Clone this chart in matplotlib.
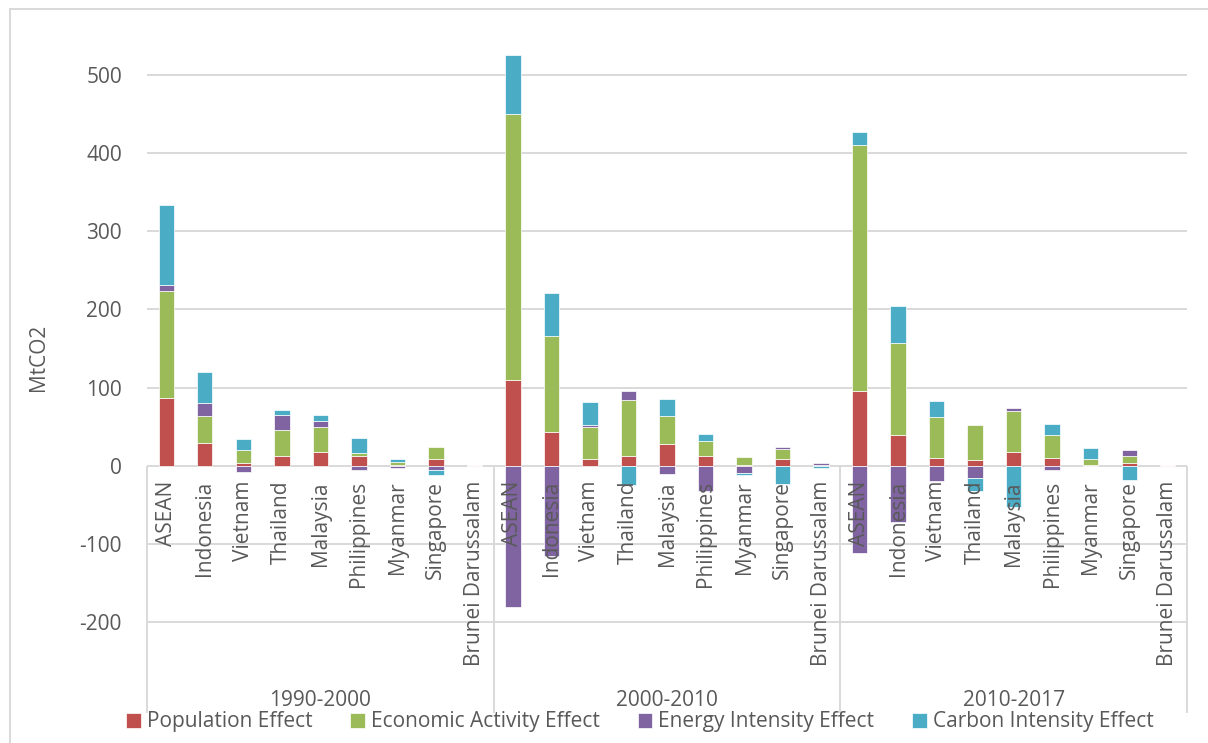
import matplotlib
matplotlib.use("Agg")
import matplotlib.pyplot as plt
from matplotlib.lines import Line2D
import numpy as np

plt.rcParams['font.family'] = ['Open Sans', 'DejaVu Sans']
plt.rcParams['axes.unicode_minus'] = False

# --- data (MtCO2) ---------------------------------------------------------
periods = ["1990-2000", "2000-2010", "2010-2017"]
countries = ["ASEAN", "Indonesia", "Vietnam", "Thailand", "Malaysia",
             "Philippines", "Myanmar", "Singapore", "Brunei Darussalam"]

population_effect = [
    86, 29, 4, 13, 18, 12, 1.5, 9, 0.3,
    110, 43, 8, 12, 28, 12, 0.5, 8, 0.4,
    96, 39, 10, 7, 18, 10, 1, 4, 0.3,
]
economic_activity_effect = [
    137, 34, 16, 33, 32, 4, 3, 15, 0.3,
    340, 123, 42, 72, 36, 20, 10, 14, 0.3,
    314, 118, 52, 45, 52, 29, 7.5, 8.5, 0.3,
]
energy_intensity_effect = [
    8.5, 17, -8, 19, 7, -6, -3, -5, 0.8,
    -181, -115, 2, 12, -11, -33, -9, 2, 3,
    -112, -72, -19, -16, 4, -5, -0.5, 7.5, 0.5,
]
carbon_intensity_effect = [
    102, 40, 14, 6.5, 8, 20, 4, -7, -0.6,
    76, 55, 30, -25, 21, 9, -3, -23, -2.5,
    17, 48, 21, -16, -53, 15, 14.5, -18, -0.8,
]

series_names = ["Population Effect", "Economic Activity Effect",
                "Energy Intensity Effect", "Carbon Intensity Effect"]
series_colors = ["#C0504D", "#9BBB59", "#8064A2", "#4BACC6"]
series_values = [population_effect, economic_activity_effect,
                 energy_intensity_effect, carbon_intensity_effect]

yticks = [-200, -100, 0, 100, 200, 300, 400, 500]
ytick_labels = ["-200", "-100", "0", "100", "200", "300", "400", "500"]

# --- figure layout ----------------------------------------------------------
W, H = 1208, 743
fig = plt.figure(figsize=(W / 100, H / 100), dpi=100)
ax_left, ax_right, ax_top, ax_bottom = 147, 1187, 9, 713
ax = fig.add_axes([ax_left / W, 1 - ax_bottom / H,
                   (ax_right - ax_left) / W, (ax_bottom - ax_top) / H])

px_per_unit = 0.7814
zero_px = 465.7
y_lo = -(ax_bottom - zero_px) / px_per_unit
y_hi = (zero_px - ax_top) / px_per_unit

n_per_group = len(countries)
n = n_per_group * len(periods)
x = np.arange(n)
ax.set_xlim(-0.5, n - 0.5)
ax.set_ylim(y_lo, y_hi)

grid_color = "#D9D9D9"
text_color = "#595959"

# stacked bars: positives grow upward, negatives grow downward
pos_base = np.zeros(n)
neg_base = np.zeros(n)
handles = []
for name, color, vals in zip(series_names, series_colors, series_values):
    v = np.asarray(vals, dtype=float)
    bottom = np.where(v >= 0, pos_base, neg_base)
    b = ax.bar(x, v, width=0.4, bottom=bottom, color=color,
               edgecolor="white", linewidth=0.5, label=name, zorder=3)
    handles.append(b)
    pos_base = pos_base + np.where(v >= 0, v, 0)
    neg_base = neg_base + np.where(v < 0, v, 0)

# axes styling
for s in ax.spines.values():
    s.set_visible(False)
ax.set_yticks(yticks)
ax.set_yticklabels(ytick_labels)
ax.tick_params(axis="y", length=0, pad=18, labelsize=15, labelcolor=text_color)
ax.set_xticks([])
ax.yaxis.grid(True, color=grid_color, linewidth=1.4, zorder=0)
ax.set_axisbelow(True)

# group separators below the category axis
sep = [-0.5 + k * n_per_group for k in range(len(periods) + 1)]
ax.vlines(sep, y_lo, 0, colors=grid_color, linewidth=1.4, clip_on=False, zorder=1)

# category labels
label_top = -(481 - zero_px) / px_per_unit
for i in range(n):
    ax.text(x[i], label_top, countries[i % n_per_group], rotation=90,
            ha="center", va="top", fontsize=15, color=text_color, zorder=4)

# period labels
period_y = -(700 - zero_px) / px_per_unit
for k, p in enumerate(periods):
    ax.text((sep[k] + sep[k + 1]) / 2, period_y, p, ha="center", va="center",
            fontsize=15, color=text_color)

# y axis title
fig.text(38 / W, 1 - 357 / H, "MtCO2", rotation=90, ha="center", va="center",
         fontsize=15, color=text_color)

# outer chart frame
fig.add_artist(Line2D([10 / W, 10 / W], [0, 1 - 9 / H], color=grid_color,
                      linewidth=1.4, transform=fig.transFigure))
fig.add_artist(Line2D([10 / W, 1], [1 - 9 / H, 1 - 9 / H], color=grid_color,
                      linewidth=1.4, transform=fig.transFigure))

# legend
leg = fig.legend(handles=handles, labels=series_names, loc="center",
                 bbox_to_anchor=(640 / W, 1 - 722 / H), ncol=4, frameon=False,
                 fontsize=15, handlelength=0.7, handleheight=0.7,
                 handletextpad=0.3, columnspacing=1.8, borderpad=0,
                 labelcolor=text_color)

fig.savefig("out.png", dpi=100)
